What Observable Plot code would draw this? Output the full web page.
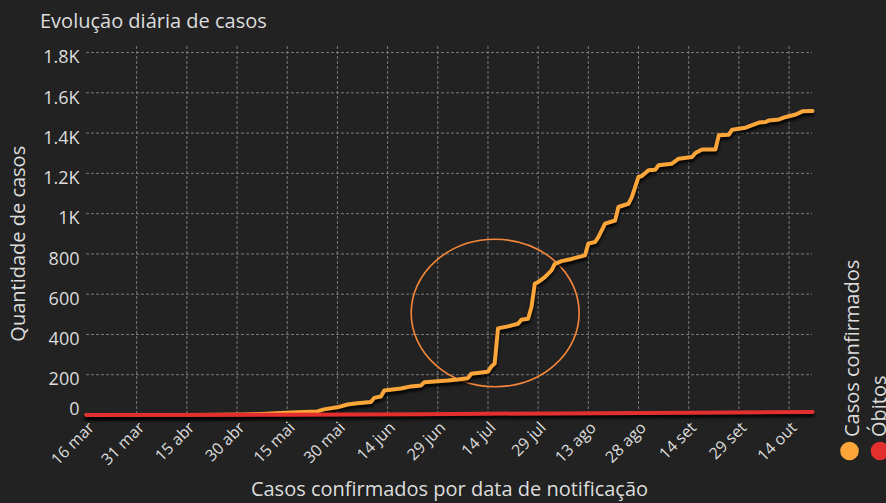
<!DOCTYPE html>
<html>
<head>
<meta charset="utf-8">
<script src="https://cdn.jsdelivr.net/npm/d3@7"></script>
<script src="https://cdn.jsdelivr.net/npm/@observablehq/plot@0.6"></script>
<style>
  html, body { margin: 0; padding: 0; background: #222222; }
  #wrap { position: relative; width: 886px; height: 503px; overflow: hidden; font-family: "Open Sans", sans-serif; }
  #chart svg { display: block; }
  #overlay { position: absolute; left: 0; top: 0; pointer-events: none; }
  g[aria-label="line"] path { filter: drop-shadow(0px 3px 1.5px rgba(0,0,0,0.9)); }
</style>
</head>
<body>
<div id="wrap">
  <div id="chart"></div>
  <svg id="overlay" width="886" height="503">
    <text x="40" y="27.5" fill="#dddddd" font-size="20" font-family="Open Sans">Evolução diária de casos</text>
    <circle id="lg1" cx="849.5" cy="451" r="9.3"></circle>
    <circle id="lg2" cx="880" cy="451" r="9.3"></circle>
    <text id="lt1" transform="translate(859,437) rotate(-90)" fill="#dddddd" font-size="20" font-family="Open Sans"></text>
    <text id="lt2" transform="translate(886,437) rotate(-90)" fill="#dddddd" font-size="20" font-family="Open Sans"></text>
  </svg>
</div>
<script>
// ---- data ----
const xTickIdx = [0, 15, 30, 45, 60, 75, 90, 105, 120, 135, 150, 165, 180, 195, 210];
const xTickLabels = ["16 mar", "31 mar", "15 abr", "30 abr", "15 mai", "30 mai", "14 jun", "29 jun",
                     "14 jul", "29 jul", "13 ago", "28 ago", "14 set", "29 set", "14 out"];
const yTicks = [0, 200, 400, 600, 800, 1000, 1200, 1400, 1600, 1800];
const yTickLabels = ["0", "200", "400", "600", "800", "1K", "1.2K", "1.4K", "1.6K", "1.8K"];

const seriesNames = ["Casos confirmados", "Óbitos"];
const seriesColors = ["#fca63a", "#e3302f"];

const diasCasos = [0, 34, 46, 52, 61, 69, 71, 75, 78, 81, 85, 86, 88, 89, 94, 97, 100, 101, 108, 111,
                   114, 115, 120, 121, 122, 123, 126, 129, 130, 132, 133, 134, 135, 137, 139, 140, 142, 145, 149, 150,
                   152, 153, 154, 155, 158, 159, 162, 163, 165, 166, 168, 170, 171, 175, 177, 181, 182, 184, 188, 189,
                   192, 193, 197, 201, 203, 204, 207, 209, 212, 214, 217];
const casos = [0, 0, 2, 5, 12, 18, 28, 38, 52, 58, 64, 85, 92, 122, 132, 142, 147, 163, 171, 176,
               183, 205, 215, 240, 256, 430, 440, 453, 473, 478, 536, 652, 660, 685, 718, 751, 764, 775, 793, 851,
               859, 883, 917, 950, 966, 1033, 1049, 1082, 1182, 1187, 1215, 1218, 1240, 1248, 1273, 1281, 1301, 1319, 1319, 1389,
               1392, 1417, 1427, 1452, 1455, 1463, 1468, 1480, 1492, 1508, 1510];

const diasObitos = [0, 60, 100, 140, 180, 217];
const obitos = [0, 1, 4, 8, 11, 15];

// annotation ellipse (center in data units, radii in data units)
const destaqueCentro = [122.3, 504];
const destaqueRaio = [25.1, 366];

const dataCasos = diasCasos.map((d, i) => ({dia: d, valor: casos[i]}));
const dataObitos = diasObitos.map((d, i) => ({dia: d, valor: obitos[i]}));

document.getElementById("lg1").setAttribute("fill", seriesColors[0]);
document.getElementById("lg2").setAttribute("fill", seriesColors[1]);
document.getElementById("lt1").textContent = seriesNames[0];
document.getElementById("lt2").textContent = seriesNames[1];

const gridStyle = {stroke: "#7a7a7a", strokeOpacity: 1, strokeDasharray: "3,2", strokeWidth: 1};

function ellipseMark(index, scales) {
  const e = document.createElementNS("http://www.w3.org/2000/svg", "ellipse");
  const cx = scales.x(destaqueCentro[0]);
  const cy = scales.y(destaqueCentro[1]);
  e.setAttribute("cx", cx);
  e.setAttribute("cy", cy);
  e.setAttribute("rx", Math.abs(scales.x(destaqueCentro[0] + destaqueRaio[0]) - cx));
  e.setAttribute("ry", Math.abs(scales.y(destaqueCentro[1] + destaqueRaio[1]) - cy));
  e.setAttribute("fill", "none");
  e.setAttribute("stroke", "#f5873a");
  e.setAttribute("stroke-width", "1.6");
  return e;
}

const chart = Plot.plot({
  width: 886,
  height: 503,
  marginLeft: 86,
  marginRight: 74,
  marginTop: 46,
  marginBottom: 88.5,
  style: {background: "transparent", color: "#dddddd", fontFamily: "Open Sans", overflow: "visible"},
  x: {type: "linear", domain: [0, 217], axis: null},
  y: {domain: [0, 1830], axis: null},
  marks: [
    Plot.gridY(yTicks.slice(1), gridStyle),
    Plot.gridX(xTickIdx.slice(1), gridStyle),
    Plot.axisY(yTicks.slice(1), {
      tickSize: 0, tickPadding: 7, fontSize: 18, dy: 5, label: null,
      tickFormat: d => yTickLabels[yTicks.indexOf(d)]
    }),
    Plot.axisY([0], {
      tickSize: 0, tickPadding: 7, fontSize: 18, dy: -6, label: null,
      tickFormat: d => yTickLabels[yTicks.indexOf(d)]
    }),
    Plot.text(xTickIdx, {
      x: d => d, frameAnchor: "bottom", text: (d, i) => xTickLabels[i],
      rotate: -45, textAnchor: "end", lineAnchor: "middle",
      fontSize: 16, fill: "#dddddd", dx: 5, dy: 10
    }),
    ellipseMark,
    Plot.line(dataCasos, {x: "dia", y: "valor", stroke: seriesColors[0], strokeWidth: 4, strokeLinejoin: "round"}),
    Plot.line(dataObitos, {x: "dia", y: "valor", stroke: seriesColors[1], strokeWidth: 4, strokeLinejoin: "round"}),
    Plot.text(["Quantidade de casos"], {
      frameAnchor: "left", rotate: -90, textAnchor: "middle", lineAnchor: "middle",
      dx: -68, dy: 13, fontSize: 20, fill: "#dddddd"
    }),
    Plot.text(["Casos confirmados por data de notificação"], {
      frameAnchor: "bottom", textAnchor: "middle", lineAnchor: "middle",
      dy: 75, fontSize: 20, fill: "#dddddd"
    })
  ]
});
document.getElementById("chart").appendChild(chart);
</script>
</body>
</html>
